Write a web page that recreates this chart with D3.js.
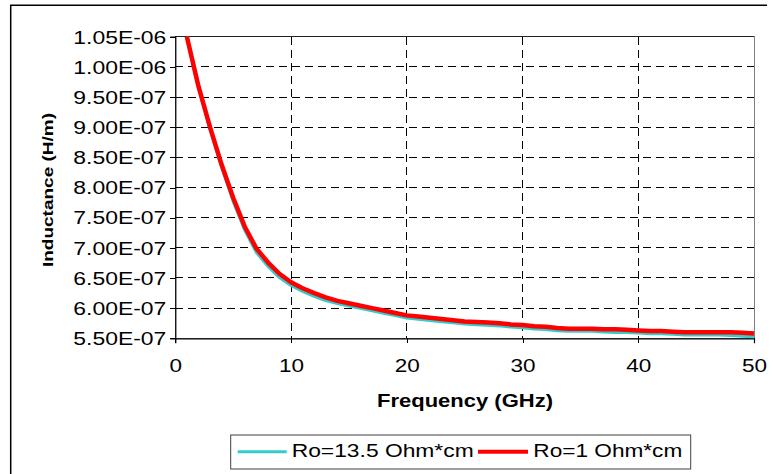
<!DOCTYPE html>
<html>
<head>
<meta charset="utf-8">
<script src="https://cdn.jsdelivr.net/npm/d3@7"></script>
<style>
  html, body { margin: 0; padding: 0; background: #fff; }
  svg { display: block; }
  text { font-family: "Liberation Sans", Arial, sans-serif; fill: #000; }
</style>
</head>
<body>
<svg id="chart" width="774" height="474"></svg>
<script>
// ---- data (inductance in units of 1e-7 H/m) ----
const frequency = d3.range(1, 51); // GHz, 1..50
const roHigh = [ // Ro=13.5 Ohm*cm
  10.50, 9.67, 8.98, 8.35, 7.78, 7.30, 6.93, 6.70, 6.51, 6.38,
  6.28, 6.20, 6.13, 6.08, 6.04, 6.00, 5.96, 5.92, 5.88, 5.84,
  5.82, 5.80, 5.78, 5.76, 5.74, 5.73, 5.72, 5.71, 5.69, 5.68,
  5.66, 5.65, 5.63, 5.62, 5.62, 5.62, 5.61, 5.60, 5.60, 5.59,
  5.58, 5.58, 5.57, 5.56, 5.56, 5.56, 5.56, 5.55, 5.54, 5.53
];
const roLow = [ // Ro=1 Ohm*cm
  10.50, 9.68, 9.00, 8.38, 7.83, 7.35, 6.99, 6.76, 6.57, 6.43,
  6.33, 6.25, 6.18, 6.12, 6.08, 6.04, 6.00, 5.96, 5.92, 5.88,
  5.86, 5.84, 5.82, 5.80, 5.78, 5.77, 5.76, 5.75, 5.73, 5.72,
  5.70, 5.69, 5.67, 5.66, 5.66, 5.66, 5.65, 5.65, 5.64, 5.63,
  5.62, 5.62, 5.61, 5.60, 5.60, 5.60, 5.60, 5.60, 5.59, 5.58
];
const seriesNames = ["Ro=13.5 Ohm*cm", "Ro=1 Ohm*cm"];
const seriesColors = ["#33CCCC", "#FF0000"];
const xTicks = [0, 10, 20, 30, 40, 50];
const yTicks = [5.5, 6.0, 6.5, 7.0, 7.5, 8.0, 8.5, 9.0, 9.5, 10.0, 10.5];
const yTickLabels = ["5.50E-07", "6.00E-07", "6.50E-07", "7.00E-07", "7.50E-07",
  "8.00E-07", "8.50E-07", "9.00E-07", "9.50E-07", "1.00E-06", "1.05E-06"];
const xTitle = "Frequency (GHz)";
const yTitle = "Inductance (H/m)";

// ---- layout ----
const svg = d3.select("#chart");
const L = 175.3, R = 754, T = 36.7, B = 338.3;
const x = d3.scaleLinear().domain([0, 50]).range([L, R]);
const y = d3.scaleLinear().domain([5.5, 10.5]).range([B, T]);

// outer chart border (top and left visible)
svg.append("path")
  .attr("d", `M10.7,474 L10.7,5.3 L767,5.3`)
  .attr("fill", "none").attr("stroke", "#000").attr("stroke-width", 1.5);

// plot area frame
svg.append("rect")
  .attr("x", L).attr("y", T).attr("width", R - L).attr("height", B - T)
  .attr("fill", "#fff").attr("stroke", "#808080").attr("stroke-width", 1)
  .attr("shape-rendering", "crispEdges");

// gridlines
const grid = svg.append("g").attr("shape-rendering", "crispEdges");
grid.selectAll("line.h").data(yTicks.slice(1, -1)).join("line")
  .attr("x1", L).attr("x2", R)
  .attr("y1", d => y(d)).attr("y2", d => y(d))
  .attr("stroke", "#000").attr("stroke-width", 1).attr("stroke-dasharray", "8,5");
grid.selectAll("line.v").data(xTicks.slice(1, -1)).join("line")
  .attr("y1", T).attr("y2", B)
  .attr("x1", d => x(d)).attr("x2", d => x(d))
  .attr("stroke", "#000").attr("stroke-width", 1).attr("stroke-dasharray", "8,5");

// top border line darker
svg.append("line").attr("x1", L).attr("x2", R).attr("y1", T).attr("y2", T)
  .attr("stroke", "#222").attr("stroke-width", 1).attr("shape-rendering", "crispEdges");

// axes
const yAxis = d3.axisLeft(y).tickValues(yTicks)
  .tickFormat((d, i) => yTickLabels[i]).tickSize(5).tickPadding(0);
const gy = svg.append("g").attr("transform", `translate(${L},0)`).call(yAxis);
gy.select(".domain").attr("stroke", "#000").attr("stroke-width", 1.2);
gy.selectAll(".tick line").attr("stroke", "#000").attr("shape-rendering", "crispEdges");
gy.selectAll(".tick text")
  .attr("x", -9).attr("dy", "0.35em")
  .style("font-size", "18px")
  .attr("textLength", 93).attr("lengthAdjust", "spacingAndGlyphs");

const xAxis = d3.axisBottom(x).tickValues(xTicks).tickSize(5).tickPadding(0);
const gx = svg.append("g").attr("transform", `translate(0,${B})`).call(xAxis);
gx.select(".domain").attr("stroke", "#000").attr("stroke-width", 1.2);
gx.selectAll(".tick line").attr("stroke", "#000").attr("shape-rendering", "crispEdges");
gx.selectAll(".tick text")
  .attr("y", 33.7).attr("dy", 0)
  .style("font-size", "18px")
  .each(function() {
    const w = this.getComputedTextLength();
    d3.select(this).attr("textLength", w * 1.25).attr("lengthAdjust", "spacingAndGlyphs");
  });
svg.selectAll(".tick text").attr("fill", "#000").style("font-family", "'Liberation Sans', Arial, sans-serif");

// axis titles
svg.append("text")
  .attr("x", 465).attr("y", 406.7).attr("text-anchor", "middle")
  .style("font-size", "18px").style("font-weight", "bold")
  .attr("textLength", 176).attr("lengthAdjust", "spacingAndGlyphs")
  .text(xTitle);
svg.append("text")
  .attr("transform", "translate(52.5,190) rotate(-90)")
  .attr("text-anchor", "middle")
  .style("font-size", "15px").style("font-weight", "bold")
  .attr("textLength", 154).attr("lengthAdjust", "spacingAndGlyphs")
  .text(yTitle);

// series lines
const line = d3.line().x((d, i) => x(frequency[i])).y(d => y(d));
svg.append("path").datum(roHigh)
  .attr("d", line).attr("fill", "none")
  .attr("stroke", seriesColors[0]).attr("stroke-width", 3.5).attr("stroke-linejoin", "round");
svg.append("path").datum(roLow)
  .attr("d", line).attr("fill", "none")
  .attr("stroke", seriesColors[1]).attr("stroke-width", 4.5).attr("stroke-linejoin", "round");

// legend
const lg = svg.append("g");
lg.append("rect").attr("x", 230.7).attr("y", 435).attr("width", 460).attr("height", 34)
  .attr("fill", "#fff").attr("stroke", "#404040").attr("stroke-width", 1);
const legendItems = [
  { x1: 237.7, x2: 286.7, tx: 291.7, tw: 182, sw: 3 },
  { x1: 478, x2: 528, tx: 533.3, tw: 149, sw: 4 }
];
legendItems.forEach((it, i) => {
  lg.append("line").attr("x1", it.x1).attr("x2", it.x2).attr("y1", 451.7).attr("y2", 451.7)
    .attr("stroke", seriesColors[i]).attr("stroke-width", it.sw);
  lg.append("text").attr("x", it.tx).attr("y", 457)
    .style("font-size", "18.5px")
    .attr("textLength", it.tw).attr("lengthAdjust", "spacingAndGlyphs")
    .text(seriesNames[i]);
});
</script>
</body>
</html>
